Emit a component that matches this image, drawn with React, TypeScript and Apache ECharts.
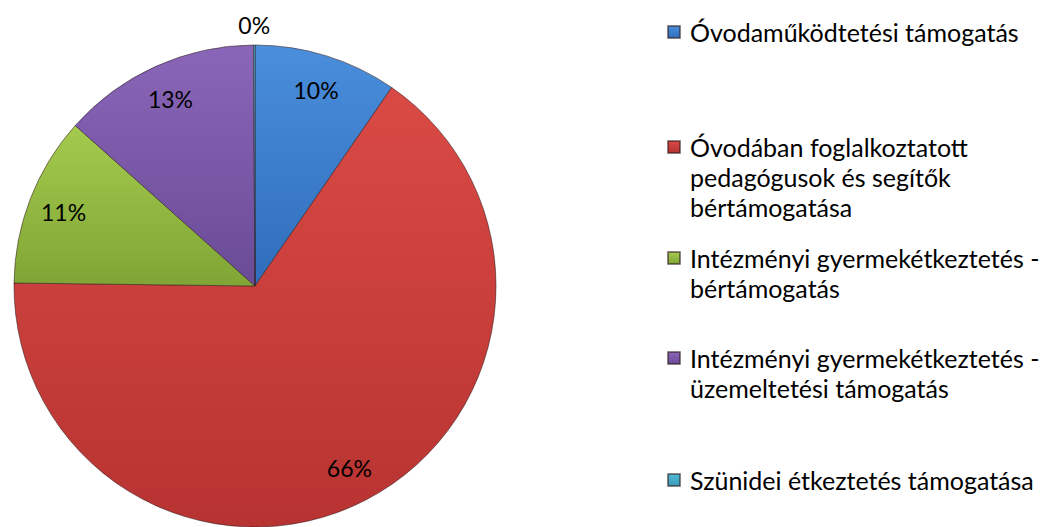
import React, { useEffect, useRef } from "react";
import * as echarts from "echarts";

const categories = [
  "Óvodaműködtetési támogatás",
  "Óvodában foglalkoztatott pedagógusok és segítők bértámogatása",
  "Intézményi gyermekétkeztetés - bértámogatás",
  "Intézményi gyermekétkeztetés - üzemeltetési támogatás",
  "Szünidei étkeztetés támogatása",
];
const legendLines = [
  ["Óvodaműködtetési támogatás"],
  ["Óvodában foglalkoztatott", "pedagógusok és segítők", "bértámogatása"],
  ["Intézményi gyermekétkeztetés -", "bértámogatás"],
  ["Intézményi gyermekétkeztetés -", "üzemeltetési támogatás"],
  ["Szünidei étkeztetés támogatása"],
];
const values = [9.6, 65.6, 11.4, 13.3, 0.1];
const topColors = ["#4A8EDC", "#DA4A45", "#A4CB4E", "#8A66B8", "#52BBD6"];
const bottomColors = ["#2F6DBA", "#B73331", "#80A535", "#6A4B97", "#3A9AB6"];

const FONT = "Lato, 'Open Sans', sans-serif";
const CX = 255;
const CY = 286;
const R = 241;
const LINE_H = 30;
const legendCenters = [32, 147, 258, 358, 480];

function grad(i: number) {
  return new echarts.graphic.LinearGradient(0, 0, 0, 1, [
    { offset: 0, color: topColors[i] },
    { offset: 1, color: bottomColors[i] },
  ]);
}

export default function App() {
  const ref = useRef<HTMLDivElement>(null);
  useEffect(() => {
    document.body.style.margin = "0";
    const chart = echarts.init(ref.current!, undefined, { renderer: "svg" });
    const mainData = categories.map((name, i) => ({
      name,
      value: values[i],
      itemStyle: { color: grad(i) },
      label:
        i === 4
          ? { show: true, position: "outside", distanceToLabelLine: 0 }
          : { show: false },
      labelLine: { show: false, length: 20, length2: 0 },
    }));
    const ringData = categories.map((name, i) => ({
      name,
      value: values[i],
      label: { show: i !== 4 },
    }));
    const legends = categories.map((name, i) => {
      const n = legendLines[i].length;
      return {
        orient: "vertical",
        left: 667,
        top: legendCenters[i] - ((2 * n - 1) * LINE_H) / 2,
        padding: 0,
        itemGap: 0,
        itemWidth: 12,
        itemHeight: 12,
        icon: "rect",
        selectedMode: false,
        data: [name],
        formatter: () => "\n".repeat(n - 1) + legendLines[i].join("\n"),
        textStyle: {
          fontFamily: FONT,
          fontSize: 25,
          lineHeight: LINE_H,
          color: "#000",
          padding: [0, 0, 0, 5],
        },
      };
    });
    chart.setOption({
      animation: false,
      backgroundColor: "#fff",
      legend: legends,
      series: [
        {
          type: "pie",
          center: [CX, CY],
          radius: [0, R],
          startAngle: 90,
          clockwise: true,
          avoidLabelOverlap: false,
          itemStyle: { borderColor: "rgba(50,30,30,0.55)", borderWidth: 1 },
          label: {
            fontFamily: FONT,
            fontSize: 23,
            color: "#000",
            formatter: (p: any) => Math.round(p.percent) + "%",
          },
          labelLayout: (p: any) => (p.dataIndex === 4 ? { align: "center" } : {}),
          emphasis: { disabled: true },
          data: mainData,
        },
        {
          type: "pie",
          center: [CX, CY],
          radius: [R * 0.68, R],
          startAngle: 90,
          clockwise: true,
          silent: true,
          avoidLabelOverlap: false,
          itemStyle: { color: "rgba(0,0,0,0)", borderWidth: 0 },
          label: {
            position: "inside",
            rotate: 0,
            fontFamily: FONT,
            fontSize: 23,
            color: "#000",
            formatter: (p: any) => Math.round(p.percent) + "%",
          },
          labelLine: { show: false },
          emphasis: { disabled: true },
          data: ringData,
        },
      ],
    });
    return () => chart.dispose();
  }, []);
  return <div ref={ref} style={{ width: 1040, height: 527 }} />;
}
